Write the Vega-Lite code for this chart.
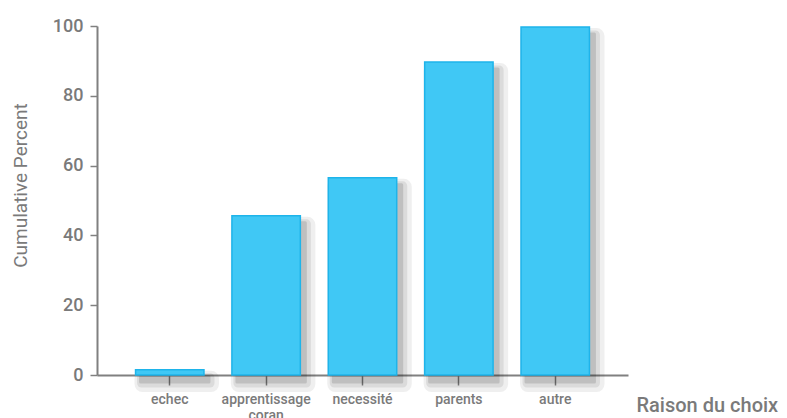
{
  "$schema": "https://vega.github.io/schema/vega-lite/v6.json",
  "width": 531,
  "height": 349,
  "autosize": {"type": "none"},
  "padding": {"left": 97, "top": 26, "right": 159, "bottom": 43},
  "background": "white",
  "config": {
    "view": {"stroke": null},
    "font": "Roboto",
    "axis": {"labelFont": "Roboto", "titleFont": "Roboto", "labelColor": "#7a7a7a", "titleColor": "#7a7a7a", "domainColor": "#808080", "tickColor": "#808080", "domainWidth": 2, "tickWidth": 1.5, "grid": false, "titleFontWeight": "normal", "labelFontWeight": 500}
  },
  "data": {
    "values": [
      {"raison": "echec", "pct": 1.5},
      {"raison": "apprentissage coran", "pct": 45.6},
      {"raison": "necessité", "pct": 56.5},
      {"raison": "parents", "pct": 89.7},
      {"raison": "autre", "pct": 99.7}
    ]
  },
  "encoding": {
    "x": {
      "field": "raison",
      "type": "nominal",
      "sort": null,
      "scale": {"paddingInner": 0.29, "paddingOuter": 0.4},
      "axis": {
        "labelAngle": 0,
        "labelFontSize": 14,
        "labelExpr": "split(datum.label, ' ')",
        "labelLineHeight": 16,
        "tickSize": 10,
        "labelPadding": 7,
        "title": "Raison du choix",
        "titleFontSize": 20,
        "titleFontWeight": 500,
        "titleAlign": "left",
        "titleAnchor": "start",
        "titleX": 539,
        "titleY": 30,
        "titleBaseline": "middle"
      }
    },
    "y": {
      "field": "pct",
      "type": "quantitative",
      "scale": {"domain": [0, 100], "nice": false},
      "axis": {
        "values": [0, 20, 40, 60, 80, 100],
        "labelFontSize": 18,
        "tickSize": 7,
        "labelPadding": 7,
        "title": "Cumulative Percent",
        "titleFontSize": 19,
        "titleX": -77,
        "titleY": 159,
        "titleAngle": -90,
        "titleAlign": "center",
        "titleBaseline": "middle"
      }
    }
  },
  "layer": [
    {"mark": {"type": "bar", "fill": "#000000", "opacity": 0.06, "xOffset": 7, "yOffset": 9, "stroke": "#000000", "strokeWidth": 16, "strokeJoin": "round"}},
    {"mark": {"type": "bar", "fill": "#000000", "opacity": 0.08, "xOffset": 6, "yOffset": 8, "stroke": "#000000", "strokeWidth": 9, "strokeJoin": "round"}},
    {"mark": {"type": "bar", "fill": "#000000", "opacity": 0.12, "xOffset": 5, "yOffset": 7, "stroke": "#000000", "strokeWidth": 3, "strokeJoin": "round"}},
    {"mark": {"type": "bar", "fill": "#40c8f5", "stroke": "#1eb4ea", "strokeWidth": 1.5}}
  ]
}
